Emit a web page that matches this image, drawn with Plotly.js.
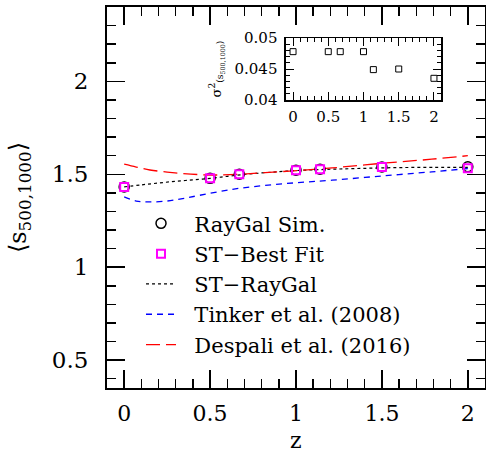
<!DOCTYPE html>
<html><head><meta charset="utf-8">
<script src="https://cdn.plot.ly/plotly-3.0.1.min.js"></script>
<style>body{margin:0;background:#fff}#c{width:486px;height:453px}</style>
</head><body><div id="c"></div>
<script>
// Simulation points
const zSim = [0, 0.5, 0.67, 1.0, 1.14, 1.5, 2.0];
const sSim = [1.432, 1.478, 1.500, 1.522, 1.527, 1.539, 1.540];
const sBest = [1.432, 1.478, 1.500, 1.522, 1.527, 1.539, 1.533];
// ST-RayGal model curve
const zST = [0, 0.1, 0.2, 0.3, 0.4, 0.5, 0.6, 0.7, 0.8, 0.9, 1.0, 1.2, 1.4, 1.6, 1.8, 2.0];
const sST = [1.432, 1.443, 1.453, 1.462, 1.470, 1.478, 1.489, 1.499, 1.507, 1.514, 1.520, 1.527, 1.532, 1.536, 1.537, 1.537];
// Tinker et al. (2008)
const zTk = [0, 0.07, 0.15, 0.25, 0.34, 0.44, 0.63, 0.82, 1.01, 1.21, 1.5, 1.79, 2.0];
const sTk = [1.378, 1.356, 1.351, 1.356, 1.369, 1.387, 1.419, 1.440, 1.455, 1.468, 1.491, 1.513, 1.531];
// Despali et al. (2016)
const zDe = [0, 0.07, 0.15, 0.25, 0.34, 0.44, 0.535, 0.67, 0.82, 1.01, 1.21, 1.5, 1.79, 2.0];
const sDe = [1.554, 1.539, 1.523, 1.512, 1.504, 1.498, 1.496, 1.500, 1.509, 1.520, 1.534, 1.559, 1.581, 1.600];
// Inset: variance
const zVar = [0, 0.5, 0.67, 1.0, 1.14, 1.5, 2.0];
const vVar = [0.0478, 0.0478, 0.0478, 0.0478, 0.0449, 0.0450, 0.0435];

const F = 'DejaVu Serif, serif';
const NB = '\u00A0\u00A0';
const traces = [
  {x: zST, y: sST, mode: 'lines', name: NB + 'ST\u2212RayGal', legendgroup: 'c', legendrank: 3,
   line: {color: '#000', dash: 'dot', width: 1.2, shape: 'spline'}},
  {x: zTk, y: sTk, mode: 'lines', name: NB + 'Tinker et al. (2008)', legendgroup: 'd', legendrank: 4,
   line: {color: '#0000ff', dash: '6px,5px', width: 1.3, shape: 'spline'}},
  {x: zDe, y: sDe, mode: 'lines', name: NB + 'Despali et al. (2016)', legendgroup: 'e', legendrank: 5,
   line: {color: '#ff0000', dash: '14px,6px', width: 1.3, shape: 'spline'}},
  {x: zSim, y: sSim, mode: 'markers', name: NB + 'RayGal Sim.', legendgroup: 'a', legendrank: 1,
   marker: {symbol: 'circle-open', size: 10, color: '#000', line: {width: 1.5}}},
  {x: zSim, y: sBest, mode: 'markers', name: NB + 'ST\u2212Best Fit', legendgroup: 'b', legendrank: 2,
   marker: {symbol: 'square-open', size: 8, color: '#ff00ff', line: {width: 2}}},
  {x: zVar, y: vVar, mode: 'markers', xaxis: 'x2', yaxis: 'y2', showlegend: false,
   marker: {symbol: 'square-open', size: 6, color: '#000', line: {width: 1}}}
];

const ax = {
  ticks: 'inside', mirror: 'allticks', showline: true, linecolor: '#000', linewidth: 2,
  tickcolor: '#000', tickwidth: 1.5, showgrid: false, zeroline: false,
  tickfont: {family: F, size: 23, color: '#000'}
};
const layout = {
  width: 486, height: 453,
  margin: {l: 107, r: 1, t: 7, b: 65},
  paper_bgcolor: '#fff', plot_bgcolor: '#fff',
  font: {family: F, color: '#000'},
  showlegend: true,
  legend: {x: 0.09, y: 0.485, xanchor: 'left', yanchor: 'top', bgcolor: 'rgba(0,0,0,0)',
    font: {family: F, size: 21, color: '#000'}, traceorder: 'grouped', tracegroupgap: 0, itemwidth: 30},
  xaxis: Object.assign({}, ax, {range: [-0.1, 2.1], dtick: 0.5, tick0: 0, ticklen: 18,
    ticklabelstandoff: 5, tickfont: {family: F, size: 22, color: '#000'},
    minor: {dtick: 0.1, ticklen: 9, tickwidth: 1.5, ticks: 'inside', tickcolor: '#000'}}),
  yaxis: Object.assign({}, ax, {range: [0.35, 2.4], dtick: 0.5, tick0: 0, ticklen: 18,
    ticklabelstandoff: 12,
    minor: {dtick: 0.1, ticklen: 9, tickwidth: 1.5, ticks: 'inside', tickcolor: '#000'},
    title: {text: '\u27E8s<sub>500,1000</sub>\u27E9', font: {family: F, size: 24}, standoff: 18}}),
  xaxis2: Object.assign({}, ax, {domain: [0.4735, 0.8836], anchor: 'y2', range: [-0.1, 2.1],
    dtick: 0.5, tick0: 0, ticklen: 8, linewidth: 1.5, tickwidth: 1,
    tickfont: {family: F, size: 15, color: '#000'}, ticklabelstandoff: 2,
    minor: {dtick: 0.1, ticklen: 4, tickwidth: 1, ticks: 'inside', tickcolor: '#000'}}),
  yaxis2: Object.assign({}, ax, {domain: [0.7559, 0.9186], anchor: 'x2', range: [0.04, 0.05],
    dtick: 0.005, tick0: 0.04, ticklen: 8, linewidth: 1.5, tickwidth: 1,
    tickfont: {family: F, size: 15, color: '#000'}, ticklabelstandoff: 4,
    minor: {dtick: 0.001, ticklen: 4, tickwidth: 1, ticks: 'inside', tickcolor: '#000'},
    title: {text: '\u03C3<sup>2</sup><sub>(s<sub>500,1000</sub>)</sub>', font: {family: F, size: 13}, standoff: 10}}),
  annotations: [{text: 'z', xref: 'paper', yref: 'paper', x: 0.5, y: -0.137, xanchor: 'center', yanchor: 'middle',
    showarrow: false, borderpad: 0, font: {family: F, size: 22, color: '#000'}}]
};
Plotly.newPlot('c', traces, layout, {displayModeBar: false, staticPlot: true});
</script></body></html>
